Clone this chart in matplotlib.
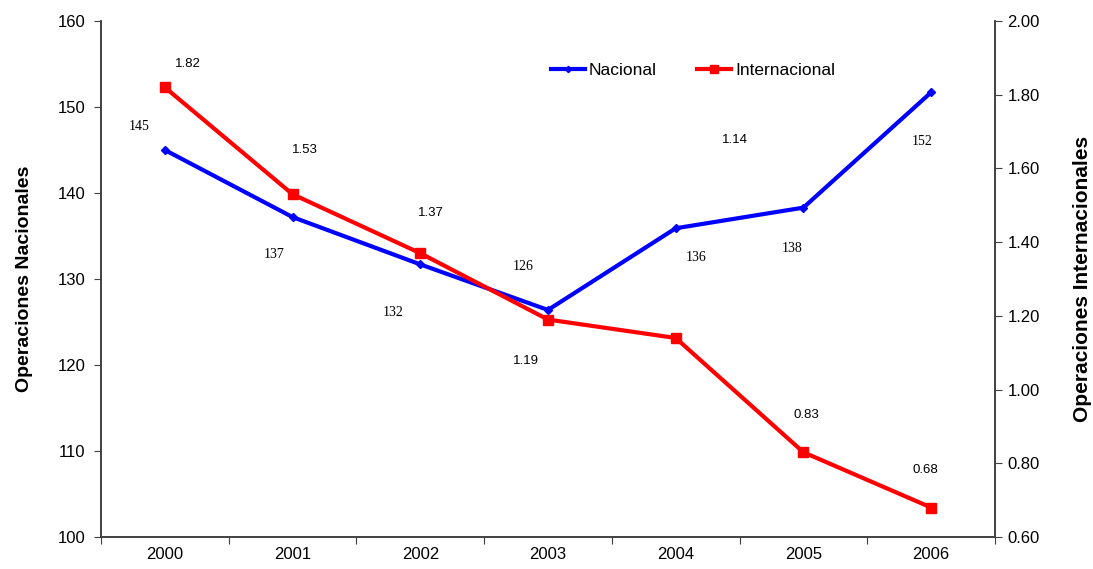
import matplotlib
matplotlib.use('Agg')
import matplotlib.pyplot as plt

anios = ['2000', '2001', '2002', '2003', '2004', '2005', '2006']
nacional = [145.0, 137.2, 131.7, 126.4, 135.9, 138.3, 151.7]
internacional = [1.82, 1.53, 1.37, 1.19, 1.14, 0.83, 0.68]

# desplazamiento de cada etiqueta respecto a su punto (pixeles)
off_nac = [(-26, 24), (-18, -37), (-27, -48), (-25, 43), (20, -29), (-11, -41), (-9, -49)]
off_int = [(23, 23), (12, 44), (11, 40), (-22, -41), (59, 198), (3, 37), (-6, 38)]

plt.rcParams['font.family'] = ['Liberation Sans', 'DejaVu Sans']
gris = '#404040'

fig = plt.figure(figsize=(10.93, 5.69), dpi=100)
ax = fig.add_axes([0.0924, 0.0562, 0.8179, 0.9069])
ax2 = ax.twinx()

x = list(range(len(anios)))
l1, = ax.plot(x, nacional, color='#0000ff', lw=3, marker='D', ms=4, label='Nacional', zorder=3)
l2, = ax2.plot(x, internacional, color='#ff0000', lw=3, marker='s', ms=6.5, label='Internacional', zorder=3)

for i, v in enumerate(nacional):
    ax.annotate('%.0f' % v, (x[i], v), xytext=off_nac[i], textcoords='offset pixels',
                ha='center', va='center', fontsize=10, family='Liberation Serif')
for i, v in enumerate(internacional):
    ax2.annotate('%.2f' % v, (x[i], v), xytext=off_int[i], textcoords='offset pixels',
                 ha='center', va='center', fontsize=9.5)

ax.set_xlim(-0.5, len(anios) - 0.5)
ax.set_ylim(100, 160)
ax.set_yticks(range(100, 161, 10))
ax2.set_ylim(0.6, 2.0)
ax2.set_yticks([0.6, 0.8, 1.0, 1.2, 1.4, 1.6, 1.8, 2.0])
ax2.set_yticklabels(['%.2f' % t for t in ax2.get_yticks()])

# ticks del eje x entre categorias
ax.set_xticks([i - 0.5 for i in range(len(anios) + 1)])
ax.set_xticklabels([])
ax.set_xticks(x, minor=True)
ax.set_xticklabels(anios, minor=True)
ax.tick_params(axis='x', which='minor', length=0, pad=7, labelsize=12)
ax.tick_params(axis='x', which='major', length=5, direction='out', color=gris)
ax.tick_params(axis='y', length=5, direction='out', labelsize=12, pad=6, color=gris)
ax2.tick_params(axis='y', length=5, direction='out', labelsize=12, pad=4, color=gris)

for a in (ax, ax2):
    a.spines['top'].set_visible(False)
    for s in ('left', 'right', 'bottom'):
        a.spines[s].set_color(gris)
        a.spines[s].set_linewidth(1.2)

ax.set_ylabel('Operaciones Nacionales', fontsize=14, fontweight='bold', labelpad=18)
ax2.set_ylabel('Operaciones Internacionales', fontsize=15, fontweight='bold', labelpad=24)

ax.legend(handles=[l1, l2], loc='center', bbox_to_anchor=(0.662, 0.905), ncol=2, frameon=False,
          fontsize=12.5, handlelength=2.0, handletextpad=0.2, columnspacing=2.3, markerscale=0.8)

fig.savefig('out.png', dpi=100)
